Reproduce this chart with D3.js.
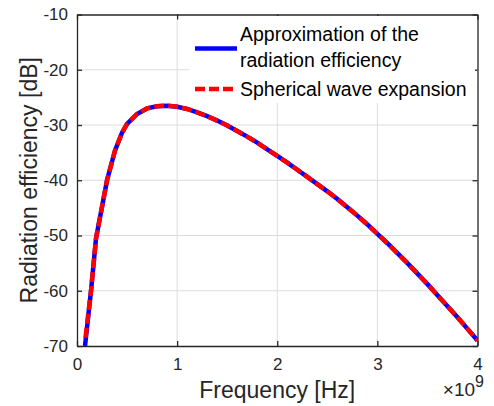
<!DOCTYPE html>
<html lang="en">
<head>
<meta charset="UTF-8">
<title>Radiation efficiency</title>
<script src="https://d3js.org/d3.v7.min.js"></script>
<style>
    body { margin: 0; background: #fff; font-family: "Liberation Sans", Arial, sans-serif; }
    .tick text { font-size: 17px; fill: #262626; }
</style>
</head>
<body>
<div id="chart"></div>
<script>
    // frequency in GHz (axis shows Hz with x10^9 multiplier), efficiency in dB
    const approxFreq = [0.08, 0.14, 0.19, 0.25, 0.3, 0.38, 0.45, 0.5, 0.6, 0.7, 0.8, 0.9, 1.0,
        1.1, 1.2, 1.3, 1.4, 1.5, 1.6, 1.7, 1.8, 1.9, 2.0, 2.1, 2.2, 2.3, 2.4, 2.5, 2.6, 2.7, 2.8,
        2.9, 3.0, 3.1, 3.2, 3.3, 3.4, 3.5, 3.6, 3.7, 3.8, 3.9, 4.0];
    const approxDb = [-70, -60, -50.5, -44.8, -40, -34.6, -31.4, -29.8, -28.0, -27.0, -26.6, -26.5, -26.7,
        -27.1, -27.7, -28.4, -29.2, -30.1, -31.1, -32.1, -33.2, -34.4, -35.6, -36.8, -38.1, -39.4, -40.7,
        -42.0, -43.4, -44.9, -46.4, -48.0, -49.7, -51.4, -53.2, -55.0, -56.9, -58.8, -60.8, -62.8, -64.8,
        -66.9, -69.0];
    const sweFreq = [0.085, 0.14, 0.19, 0.25, 0.3, 0.38, 0.45, 0.5, 0.6, 0.7, 0.8, 0.9, 1.0,
        1.1, 1.2, 1.3, 1.4, 1.5, 1.6, 1.7, 1.8, 1.9, 2.0, 2.1, 2.2, 2.3, 2.4, 2.5, 2.6, 2.7, 2.8,
        2.9, 3.0, 3.1, 3.2, 3.3, 3.4, 3.5, 3.6, 3.7, 3.8, 3.9, 4.0];
    const sweDb = [-68.5, -60, -50.5, -44.8, -40, -34.6, -31.4, -29.8, -28.0, -27.0, -26.6, -26.5, -26.7,
        -27.1, -27.7, -28.4, -29.2, -30.1, -31.1, -32.1, -33.2, -34.4, -35.6, -36.8, -38.1, -39.4, -40.7,
        -42.0, -43.4, -44.9, -46.4, -48.0, -49.7, -51.4, -53.2, -55.0, -56.9, -58.8, -60.8, -62.8, -64.8,
        -66.9, -69.0];
    const xTicks = [0, 1, 2, 3, 4];
    const yTicks = [-70, -60, -50, -40, -30, -20, -10];
    const legendLabels = [["Approximation of the", "radiation efficiency"], ["Spherical wave expansion"]];

    const W = 494, H = 406;
    const margin = { top: 14.5, right: 16.5, bottom: 60, left: 77 };
    const width = W - margin.left - margin.right;
    const height = H - margin.top - margin.bottom;

    const svg = d3.select("#chart").append("svg")
        .attr("width", W).attr("height", H);
    const g = svg.append("g").attr("transform", `translate(${margin.left},${margin.top})`);

    const x = d3.scaleLinear().domain([0, 4]).range([0, width]);
    const y = d3.scaleLinear().domain([-70, -10]).range([height, 0]);

    // grid
    g.append("g").selectAll("line.gx").data(xTicks.slice(1, -1)).enter().append("line")
        .attr("x1", d => x(d)).attr("x2", d => x(d)).attr("y1", 0).attr("y2", height)
        .attr("stroke", "#dcdcdc").attr("stroke-width", 1);
    g.append("g").selectAll("line.gy").data(yTicks.slice(1, -1)).enter().append("line")
        .attr("y1", d => y(d)).attr("y2", d => y(d)).attr("x1", 0).attr("x2", width)
        .attr("stroke", "#dcdcdc").attr("stroke-width", 1);

    // curves
    g.append("clipPath").attr("id", "clip").append("rect")
        .attr("width", width).attr("height", height);
    const line = d3.line().x(d => x(d[0])).y(d => y(d[1]));
    g.append("path")
        .datum(d3.zip(approxFreq, approxDb))
        .attr("clip-path", "url(#clip)")
        .attr("d", line).attr("fill", "none")
        .attr("stroke", "#0000ff").attr("stroke-width", 4.5);
    g.append("path")
        .datum(d3.zip(sweFreq, sweDb))
        .attr("clip-path", "url(#clip)")
        .attr("d", line).attr("fill", "none")
        .attr("stroke", "#ff0000").attr("stroke-width", 4.5)
        .attr("stroke-dasharray", "10,4");

    // axes (ticks inward, box); plain hyphen for negatives like the original
    const fmt = d => String(d);
    g.append("g").attr("transform", `translate(0,${height})`)
        .call(d3.axisBottom(x).tickValues(xTicks).tickFormat(fmt).tickSizeInner(-5).tickSizeOuter(0).tickPadding(12));
    g.append("g")
        .call(d3.axisLeft(y).tickValues(yTicks).tickFormat(fmt).tickSizeInner(-5).tickSizeOuter(0).tickPadding(9));
    g.append("g").attr("transform", `translate(${width},0)`)
        .call(d3.axisRight(y).tickValues(yTicks).tickSizeInner(-5).tickSizeOuter(0).tickFormat(""));
    g.append("g")
        .call(d3.axisTop(x).tickValues(xTicks).tickSizeInner(-5).tickSizeOuter(0).tickFormat(""));
    g.selectAll(".domain, .tick line").attr("stroke", "#262626").attr("stroke-width", 1.3);
    g.selectAll(".tick text").attr("font-family", null).attr("font-size", null);

    // axis labels
    svg.append("text")
        .attr("x", margin.left + width / 2).attr("y", 398)
        .attr("text-anchor", "middle").attr("font-size", 23).attr("fill", "#262626")
        .text("Frequency [Hz]");
    svg.append("text")
        .attr("transform", `translate(37,${margin.top + height / 2}) rotate(-90)`)
        .attr("text-anchor", "middle").attr("font-size", 23).attr("fill", "#262626")
        .text("Radiation efficiency [dB]");
    const mult = svg.append("text")
        .attr("x", 484).attr("y", 396).attr("text-anchor", "end").attr("fill", "#262626");
    mult.append("tspan").attr("font-size", 19).text("\u00d7");
    mult.append("tspan").attr("font-size", 19).text("10");
    mult.append("tspan").attr("font-size", 16).attr("dy", -9).text("9");

    // legend
    const lg = svg.append("g");
    lg.append("rect").attr("x", 189).attr("y", 16).attr("width", 286).attr("height", 87).attr("fill", "#fff");
    lg.append("line").attr("x1", 195).attr("x2", 237).attr("y1", 48.5).attr("y2", 48.5)
        .attr("stroke", "#0000ff").attr("stroke-width", 4.5);
    lg.append("line").attr("x1", 195).attr("x2", 237).attr("y1", 89).attr("y2", 89)
        .attr("stroke", "#ff0000").attr("stroke-width", 4.5).attr("stroke-dasharray", "10,4");
    const lt = lg.append("text").attr("font-size", 19.5).attr("fill", "#000");
    lt.append("tspan").attr("x", 240).attr("y", 40.5).text(legendLabels[0][0]);
    lt.append("tspan").attr("x", 240).attr("y", 67).text(legendLabels[0][1]);
    lt.append("tspan").attr("x", 240).attr("y", 96).text(legendLabels[1][0]);
</script>
</body>
</html>
